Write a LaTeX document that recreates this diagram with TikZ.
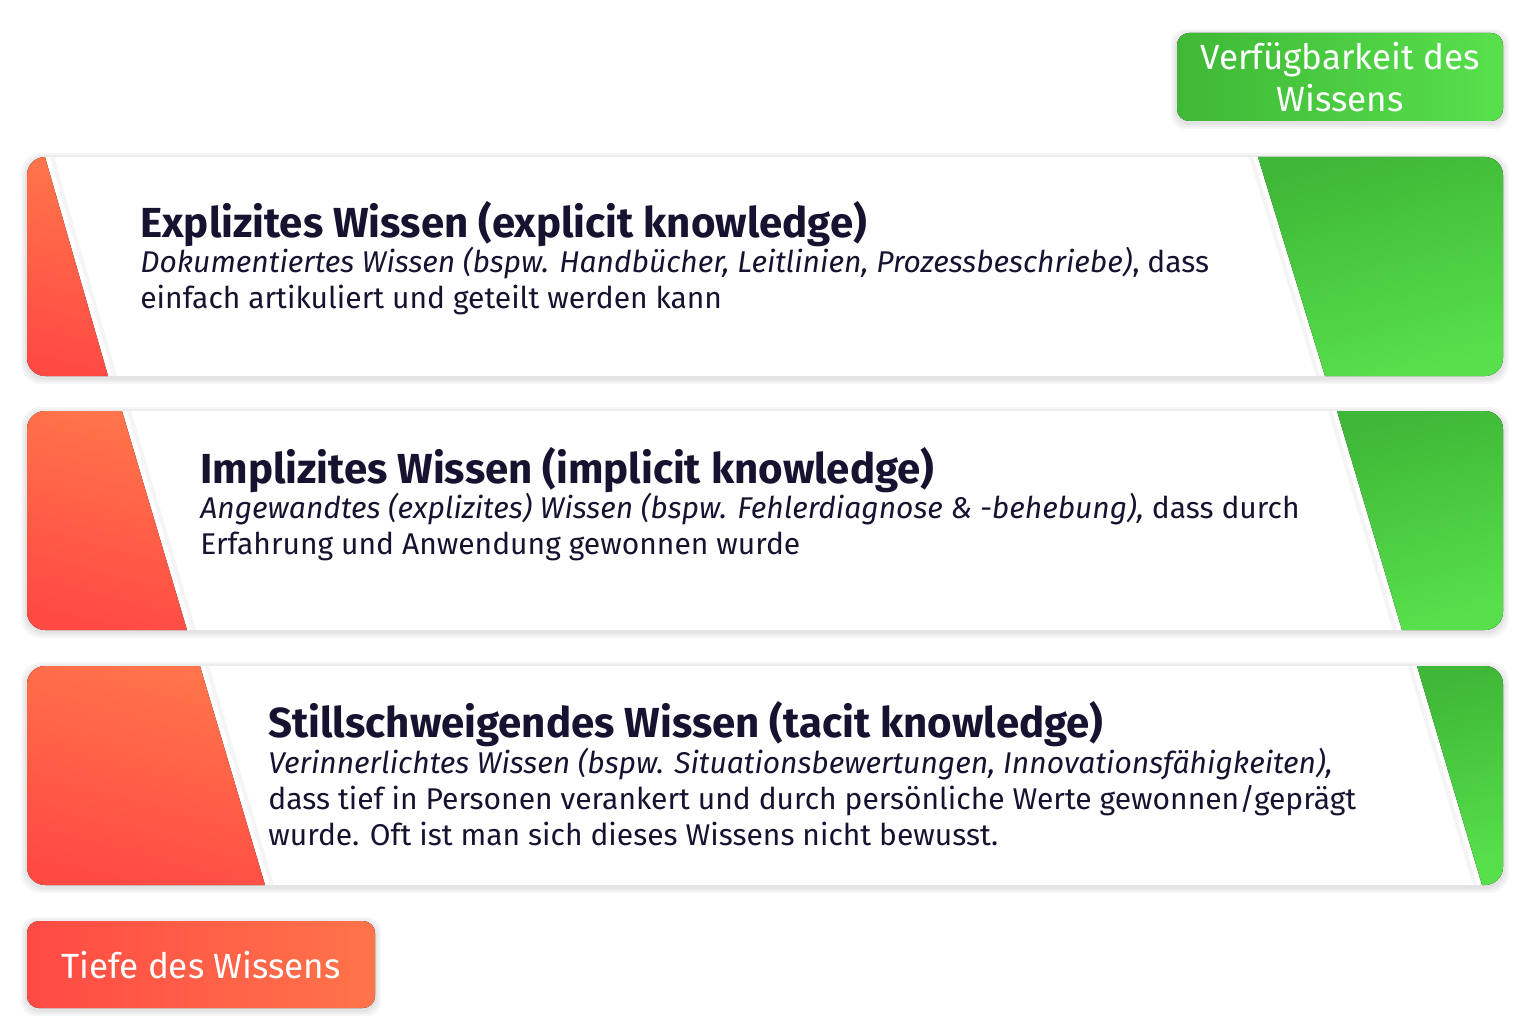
\documentclass[tikz,border=0pt]{standalone}
\usepackage{fontspec}
\setmainfont{Fira Sans}
\definecolor{ink}{RGB}{22,19,48}
\definecolor{redtop}{RGB}{255,116,74}
\definecolor{redbot}{RGB}{255,74,68}
\definecolor{greentop}{RGB}{63,184,55}
\definecolor{greenbot}{RGB}{88,224,76}

\tikzset{every picture/.style={line width=0.75pt}}
\tikzset{
  redgrad/.style={top color=redtop, bottom color=redbot, shading angle=-15},
  greengrad/.style={top color=greentop, bottom color=greenbot, shading angle=15},
  redtag/.style={left color=redbot, right color=redtop},
  greentag/.style={left color=greentop, right color=greenbot},
  card/.style={fill=white},
  cardshadow/.style={fill=black, opacity=0.035},
  headtxt/.style={anchor=base west, text=ink, inner sep=0pt, font=\fontsize{42}{46}\selectfont\bfseries},
  bodytxt/.style={anchor=base west, text=ink, inner sep=0pt, font=\fontsize{30}{36}\selectfont},
  tagtxt/.style={text=white, inner sep=0pt, align=center, font=\fontsize{35}{42}\selectfont}
}
\newcommand{\bodylines}[1]{\parbox[t]{1300pt}{\raggedright #1}}

\begin{document}
\begin{tikzpicture}[x=1pt,y=1pt,yscale=-1,xscale=1]
\useasboundingbox (0,0) rectangle (1536,1035);
\fill[white] (0,0) rectangle (1536,1035);

%Shape: Rounded Rect [id:tag_avail]
\foreach \s in {2,4,6} {\fill[cardshadow, rounded corners=14] (1177-\s,33-\s+2) rectangle (1503+\s,121+\s+2);}
\fill[greentag, rounded corners=12] (1177,33) rectangle (1503,121);
%Shape: Rounded Rect [id:tag_depth]
\foreach \s in {2,4,6} {\fill[cardshadow, rounded corners=14] (27-\s,921-\s+2) rectangle (375+\s,1008+\s+2);}
\fill[redtag, rounded corners=12] (27,921) rectangle (375,1008);

%Shape: Banners [id:cards]
\foreach \yt/\rt/\rb/\gt/\gb in {157/45/108/1258/1325, 411/122/187/1337/1402, 666/200/265/1417/1482} {
  \foreach \s in {2,4,6} {\fill[cardshadow, rounded corners=20] (27-\s,\yt-\s+2) rectangle (1503+\s,\yt+219+\s+2);}
  \begin{scope}
    \clip[rounded corners=18] (27,\yt) rectangle (1503,\yt+219);
    \fill[card] (27,\yt) rectangle (1503,\yt+219);
    %red wedge
    \fill[redgrad] (20,\yt) -- (\rt,\yt) -- (\rb,\yt+219) -- (20,\yt+219) -- cycle;
    \draw[black!4, line width=4] (\rt+7,\yt) -- (\rb+7,\yt+219);
    %green wedge
    \draw[black!4, line width=4] (\gt-7,\yt) -- (\gb-7,\yt+219);
    \fill[greengrad] (\gt,\yt) -- (1510,\yt) -- (1510,\yt+219) -- (\gb,\yt+219) -- cycle;
  \end{scope}
}

% Text Node
\node[tagtxt] (avail) at (1340,77) {Verfügbarkeit des\\Wissens};
% Text Node
\node[tagtxt] (depth) at (201,965) {Tiefe des Wissens};

% Text Node
\node[headtxt] (explhead) at (140,237) {Explizites Wissen (explicit knowledge)};
\node[bodytxt] (explbody) at (140,272) {\bodylines{\textit{Dokumentiertes Wissen (bspw. Handbücher, Leitlinien, Prozessbeschriebe)}, dass\\einfach artikuliert und geteilt werden kann}};
% Text Node
\node[headtxt] (implhead) at (200,483) {Implizites Wissen (implicit knowledge)};
\node[bodytxt] (implbody) at (200,518) {\bodylines{\textit{Angewandtes (explizites) Wissen (bspw. Fehlerdiagnose \& -behebung),} dass durch\\Erfahrung und Anwendung gewonnen wurde}};
% Text Node
\node[headtxt] (tacithead) at (268,737) {Stillschweigendes Wissen (tacit knowledge)};
\node[bodytxt] (tacitbody) at (268,773) {\bodylines{\textit{Verinnerlichtes Wissen (bspw. Situationsbewertungen, Innovationsfähigkeiten),}\\dass tief in Personen verankert und durch persönliche Werte gewonnen/geprägt\\wurde. Oft ist man sich dieses Wissens nicht bewusst.}};

\end{tikzpicture}
\end{document}
